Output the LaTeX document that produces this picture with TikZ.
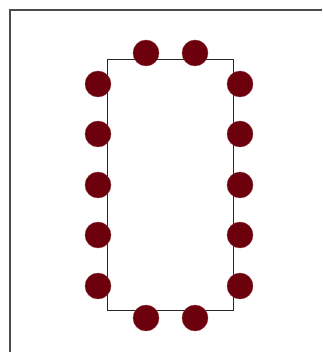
\documentclass[tikz,border=0pt]{standalone}
\usepackage{tikz}
\usetikzlibrary{positioning}
\definecolor{seatred}{RGB}{108,0,12}
\tikzset{
  table/.style={rectangle, draw=black!85, line width=0.8pt, fill=white,
    minimum width=126pt, minimum height=251pt, inner sep=0pt},
  seat/.style={circle, fill=seatred, draw=seatred!80, line width=0.4pt,
    minimum size=26pt, inner sep=0pt},
  frame/.style={draw=black!70, line width=1.6pt},
}

\begin{document}
\begin{tikzpicture}[x=1pt, y=-1pt]
\useasboundingbox (0,0) rectangle (322,352);

% ===================== FRAME =====================
\coordinate (f1) at (10,352);
\coordinate (f2) at (10,10);
\coordinate (f3) at (322,10);
\draw[frame] (f1) -- (f2) -- (f3);

% ===================== TABLE =====================
\node[table] (tbl) at (170,184.5) {};

% ===================== SEATS =====================
\node[seat] (t1) at (146,53)  {};
\node[seat] (t2) at (195,53)  {};

\node[seat] (l1) at (98,84)   {};
\node[seat] (l2) at (98,134)  {};
\node[seat] (l3) at (98,185)  {};
\node[seat] (l4) at (98,235)  {};
\node[seat] (l5) at (98,286)  {};

\node[seat] (r1) at (240,84)  {};
\node[seat] (r2) at (240,134) {};
\node[seat] (r3) at (240,185) {};
\node[seat] (r4) at (240,235) {};
\node[seat] (r5) at (240,286) {};

\node[seat] (b1) at (146,318) {};
\node[seat] (b2) at (195,318) {};

\end{tikzpicture}
\end{document}
